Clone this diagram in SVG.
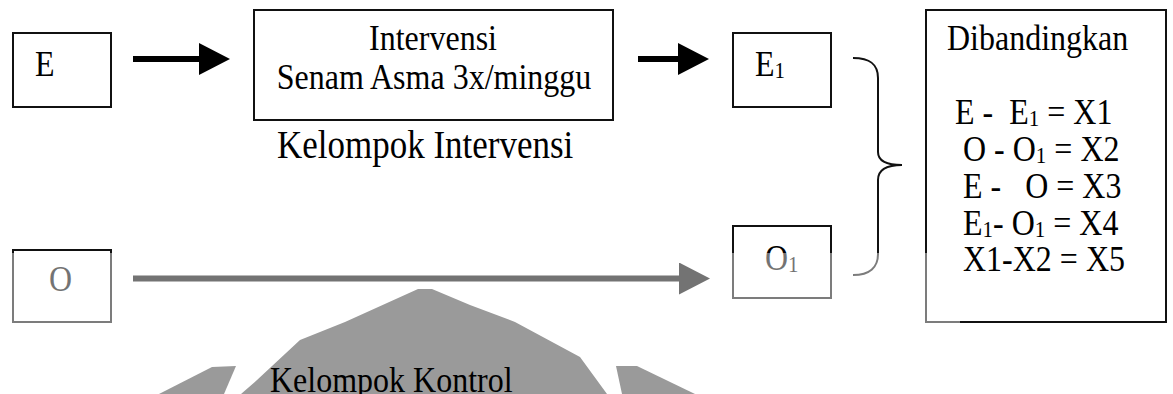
<svg xmlns="http://www.w3.org/2000/svg" width="1173" height="394" viewBox="0 0 1173 394">
<defs>
<style>
.box{fill:#fff;stroke:#111;stroke-width:2}
.t{font-family:"Liberation Serif","Times New Roman",serif;font-size:32px;fill:#000}
.big{font-size:35px}
.sub{font-size:21px;baseline-shift:-2px}
.shaft{stroke:#000;stroke-width:6;fill:none}
.brace{fill:none;stroke:#111;stroke-width:2}
.wm{fill:#9a9a9a;stroke:none}
</style>
<marker id="head" markerUnits="userSpaceOnUse" markerWidth="32" markerHeight="32" refX="0" refY="16" orient="auto">
<path d="M0,0 L31,16 L0,32 Z" fill="#000"/>
</marker>
</defs>
<rect width="1173" height="394" fill="#fff"/>

<g id="node-E">
<rect class="box" x="13" y="33" width="98" height="74"/>
<text class="t" transform="translate(35,76) scale(1,1.12)">E</text>
</g>
<g id="node-intervensi">
<rect class="box" x="254" y="10" width="359" height="110"/>
<text class="t" text-anchor="middle" transform="translate(433,50) scale(1,1.12)">Intervensi</text>
<text class="t" text-anchor="middle" transform="translate(434,89) scale(1,1.12)">Senam Asma 3x/minggu</text>
</g>
<g id="node-E1">
<rect class="box" x="733" y="33" width="98" height="74"/>
<text class="t" transform="translate(755,76) scale(1,1.12)">E<tspan class="sub">1</tspan></text>
</g>
<g id="label-intervensi">
<text class="t big" transform="translate(277,158) scale(1,1.12)">Kelompok Intervensi</text>
</g>
<g id="node-O">
<rect class="box" x="13" y="250" width="98" height="72"/>
<text class="t" transform="translate(49,291) scale(1,1.12)">O</text>
</g>
<g id="node-O1">
<rect class="box" x="733" y="226" width="98" height="72"/>
<text class="t" transform="translate(765,270) scale(1,1.12)">O<tspan class="sub">1</tspan></text>
</g>
<g id="node-dibandingkan">
<rect class="box" x="926" y="10" width="240" height="312"/>
<text class="t" transform="translate(947,50) scale(1,1.12)">Dibandingkan</text>
<text class="t" xml:space="preserve" transform="translate(955,124) scale(1,1.12)">E -  E<tspan class="sub">1</tspan> = X1</text>
<text class="t" xml:space="preserve" transform="translate(963,161) scale(1,1.12)">O - O<tspan class="sub">1</tspan> = X2</text>
<text class="t" xml:space="preserve" transform="translate(963,198) scale(1,1.12)">E -   O = X3</text>
<text class="t" xml:space="preserve" transform="translate(963,235) scale(1,1.12)">E<tspan class="sub">1</tspan>- O<tspan class="sub">1</tspan> = X4</text>
<text class="t" xml:space="preserve" transform="translate(963,271) scale(1,1.12)">X1-X2 = X5</text>
</g>

<g id="connectors">
<line class="shaft" x1="133" y1="59" x2="199" y2="59" marker-end="url(#head)"/>
<line class="shaft" x1="638" y1="59" x2="678" y2="59" marker-end="url(#head)"/>
<line class="shaft" x1="133" y1="278.5" x2="679" y2="278.5" stroke-width="5" marker-end="url(#head)"/>
<path class="brace" d="M853,58 C870,58 878,64 878,78 L878,152 C878,160 886,165 902,165 C886,165 878,170 878,180 L878,254 C878,267 870,275 853,275"/>
</g>

<rect id="fade" x="0" y="253" width="960" height="141" fill="#fff" fill-opacity="0.45"/>

<g id="watermark">
<path class="wm" d="M418,289 L432,289 L470,305 L515,322 L580,357 L607,394 L241,394 L257,380 L300,340 L345,322 Z"/>
<path class="wm" d="M159,394 L212,367 L236,366 L224,394 Z"/>
<path class="wm" d="M616,366 L637,366 L695,394 L622,394 Z"/>
</g>
<g id="label-kontrol">
<text class="t" transform="translate(270,392) scale(1,1.12)">Kelompok Kontrol</text>
</g>
</svg>
